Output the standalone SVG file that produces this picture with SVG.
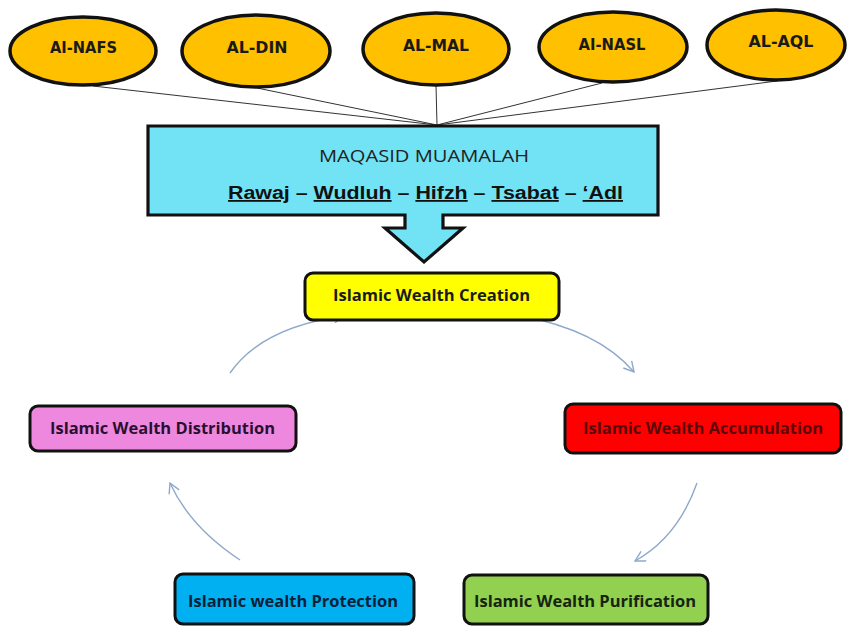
<svg xmlns="http://www.w3.org/2000/svg" width="847" height="627" viewBox="0 0 847 627">
<style>
.ell{fill:#FFC000;stroke:#111;stroke-width:3.5}
.elt{font-family:"DejaVu Sans","Liberation Sans",sans-serif;font-weight:700;font-size:16px;fill:#1a1a1a;text-anchor:middle}
.box{stroke:#111;stroke-width:3}
.bt{font-family:"Open Sans","Liberation Sans",sans-serif;font-weight:700;font-size:16px;text-anchor:middle}
.ln{stroke:#333;stroke-width:1;fill:none}
.cv{stroke:#8EA9CB;stroke-width:1.4;fill:none;marker-end:url(#ah)}
</style>
<defs>
<marker id="ah" viewBox="0 0 12 12" refX="11" refY="6" markerWidth="12" markerHeight="12" markerUnits="userSpaceOnUse" orient="auto">
<path d="M1,0.5 L11,6 L1,11.5" fill="none" stroke="#8EA9CB" stroke-width="1.4"/>
</marker>
</defs>
<rect width="847" height="627" fill="#fff"/>
<g id="connectors">
<path class="ln" d="M93,86 L437,125"/>
<path class="ln" d="M257,88 L437,125"/>
<path class="ln" d="M436,85 L437,125"/>
<path class="ln" d="M602,83 L437,125"/>
<path class="ln" d="M777,81 L437,125"/>
<path class="cv" d="M230,373 Q262,327 344,316"/>
<path class="cv" d="M521,316 Q598,330 634,372"/>
<path class="cv" d="M697,483 Q678,537 635,561"/>
<path class="cv" d="M240,560 Q190,527 170,483"/>
</g>
<g id="al-nafs"><ellipse class="ell" cx="83" cy="51" rx="73" ry="34"/><text class="elt" x="83.5" y="53" textLength="67" lengthAdjust="spacingAndGlyphs">AI-NAFS</text></g>
<g id="al-din"><ellipse class="ell" cx="256" cy="51" rx="74" ry="36"/><text class="elt" x="257" y="53" textLength="61" lengthAdjust="spacingAndGlyphs">AL-DIN</text></g>
<g id="al-mal"><ellipse class="ell" cx="436" cy="49" rx="73" ry="36"/><text class="elt" x="436" y="51" textLength="66" lengthAdjust="spacingAndGlyphs">AL-MAL</text></g>
<g id="al-nasl"><ellipse class="ell" cx="613" cy="47" rx="74" ry="35"/><text class="elt" x="612" y="50" textLength="67" lengthAdjust="spacingAndGlyphs">AI-NASL</text></g>
<g id="al-aql"><ellipse class="ell" cx="776" cy="45" rx="69" ry="35"/><text class="elt" x="781" y="47" textLength="65" lengthAdjust="spacingAndGlyphs">AL-AQL</text></g>
<g id="maqasid">
<path d="M148,126 H658 V215 H443 V228 H463 L424,262 L385,228 H405 V215 H148 Z" fill="#72E3F5" stroke="#111" stroke-width="3.2" stroke-linejoin="miter"/>
<text x="424" y="162" font-family="'Open Sans','Liberation Sans',sans-serif" font-size="16" fill="#222" text-anchor="middle" textLength="210" lengthAdjust="spacingAndGlyphs">MAQASID MUAMALAH</text>
<text x="228" y="199" font-family="'Liberation Sans',Arial,sans-serif" font-weight="700" font-size="18" fill="#111" textLength="395" lengthAdjust="spacingAndGlyphs"><tspan text-decoration="underline">Rawaj</tspan> – <tspan text-decoration="underline">Wudluh</tspan> – <tspan text-decoration="underline">Hifzh</tspan> – <tspan text-decoration="underline">Tsabat</tspan> – <tspan text-decoration="underline">‘Adl</tspan></text>
</g>
<g id="creation"><rect class="box" x="305" y="273" width="254" height="47" rx="8" fill="#FFFF00"/><text class="bt" x="431.5" y="301" fill="#1a1a1a" textLength="197" lengthAdjust="spacingAndGlyphs">Islamic Wealth Creation</text></g>
<g id="distribution"><rect class="box" x="30" y="406" width="266" height="45" rx="8" fill="#EE88DE"/><text class="bt" x="162.5" y="434" fill="#2a1030" textLength="225" lengthAdjust="spacingAndGlyphs">Islamic Wealth Distribution</text></g>
<g id="accumulation"><rect class="box" x="565" y="404" width="276" height="49" rx="8" fill="#FF0000"/><text class="bt" x="703" y="434" fill="#5a0808" textLength="240" lengthAdjust="spacingAndGlyphs">Islamic Wealth Accumulation</text></g>
<g id="protection"><rect class="box" x="175" y="574" width="239" height="50" rx="8" fill="#00B0F0"/><text class="bt" x="293" y="607" fill="#0a1f3a" textLength="210" lengthAdjust="spacingAndGlyphs">Islamic wealth Protection</text></g>
<g id="purification"><rect class="box" x="464" y="575" width="244" height="49" rx="8" fill="#92D050"/><text class="bt" x="585" y="607" fill="#162410" textLength="222" lengthAdjust="spacingAndGlyphs">Islamic Wealth Purification</text></g>
</svg>
